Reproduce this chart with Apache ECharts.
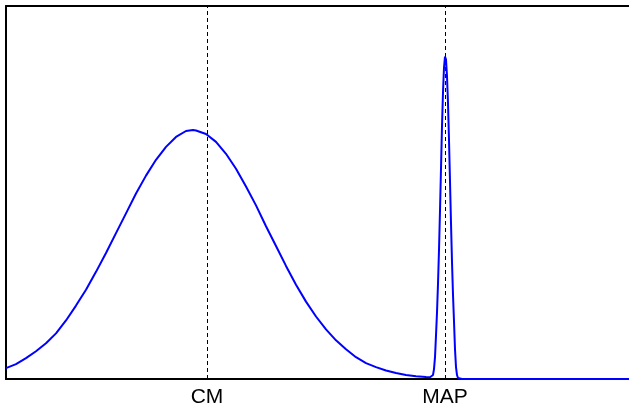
<!DOCTYPE html>
<html>
<head>
<meta charset="utf-8">
<script src="https://cdn.jsdelivr.net/npm/echarts@6/dist/echarts.min.js"></script>
<style>
html,body{margin:0;padding:0;background:#fff;}
#chart{width:629px;height:408px;}
</style>
</head>
<body>
<div id="chart"></div>
<script>
// Density curve (x, y in plot units)
const xValues = [0,10,20,30,40,50,60,70,80,90,100,110,120,130,140,150,160,170,180,187,190,200,210,220,230,240,250,260,270,280,290,300,310,320,330,340,350,360,370,380,390,400,410,420,424,425,426,427,428,429,430,431,432,433,434,435,436,437,438,439,440,441,442,443,444,445,446,447,448,449,450,451,452,453,456,470,623];
const yValues = [11,15,21,28,36,46,59,74,90,108,127,147,167,187,205,221,234,244,250,251,250.5,247,239,227,212,194,175,154,134,114,95,78,63,50,39,30,22,16,12,8.5,6,4,2.8,2,1.8,1.9,2.2,4,10,22,44,67,96,130,170,212,255,289,314,325,322,305,278,241,199,157,118,85,58,30,12,4,1,0.2,0,0,0];
// Tick labels on the x axis
const tickPositions = [201, 439];
const tickLabels = ['CM', 'MAP'];

const seriesData = xValues.map((x, i) => [x, yValues[i]]);
const chart = echarts.init(document.getElementById('chart'));
const frameLine = {show: true, lineStyle: {color: '#000', width: 2}};
chart.setOption({
  animation: false,
  backgroundColor: '#fff',
  grid: {left: 6, right: 0, top: 6, bottom: 26, containLabel: false},
  xAxis: [{
    type: 'value', min: 0, max: 623, position: 'bottom',
    axisLine: frameLine, axisTick: {show: false}, splitLine: {show: false},
    axisLabel: {
      show: true, customValues: tickPositions, margin: 8,
      color: '#000', fontSize: 21, fontFamily: 'Liberation Sans, Arial, sans-serif',
      formatter: function (v) { const i = tickPositions.indexOf(v); return i >= 0 ? tickLabels[i] : ''; }
    }
  }, {
    type: 'value', min: 0, max: 623, position: 'top',
    axisLine: frameLine, axisTick: {show: false}, splitLine: {show: false}, axisLabel: {show: false}
  }],
  yAxis: {
    type: 'value', min: 0, max: 376,
    axisLine: frameLine, axisTick: {show: false}, splitLine: {show: false}, axisLabel: {show: false}
  },
  series: [{
    type: 'line', xAxisIndex: 0, data: seriesData, showSymbol: false,
    smooth: false, clip: false,
    lineStyle: {color: '#0000ff', width: 2},
    markLine: {
      silent: true, symbol: ['none', 'none'], label: {show: false},
      lineStyle: {color: '#000', type: [4, 3], width: 1},
      data: tickPositions.map(p => ({xAxis: p}))
    },
    z: 5
  }]
});
</script>
</body>
</html>
